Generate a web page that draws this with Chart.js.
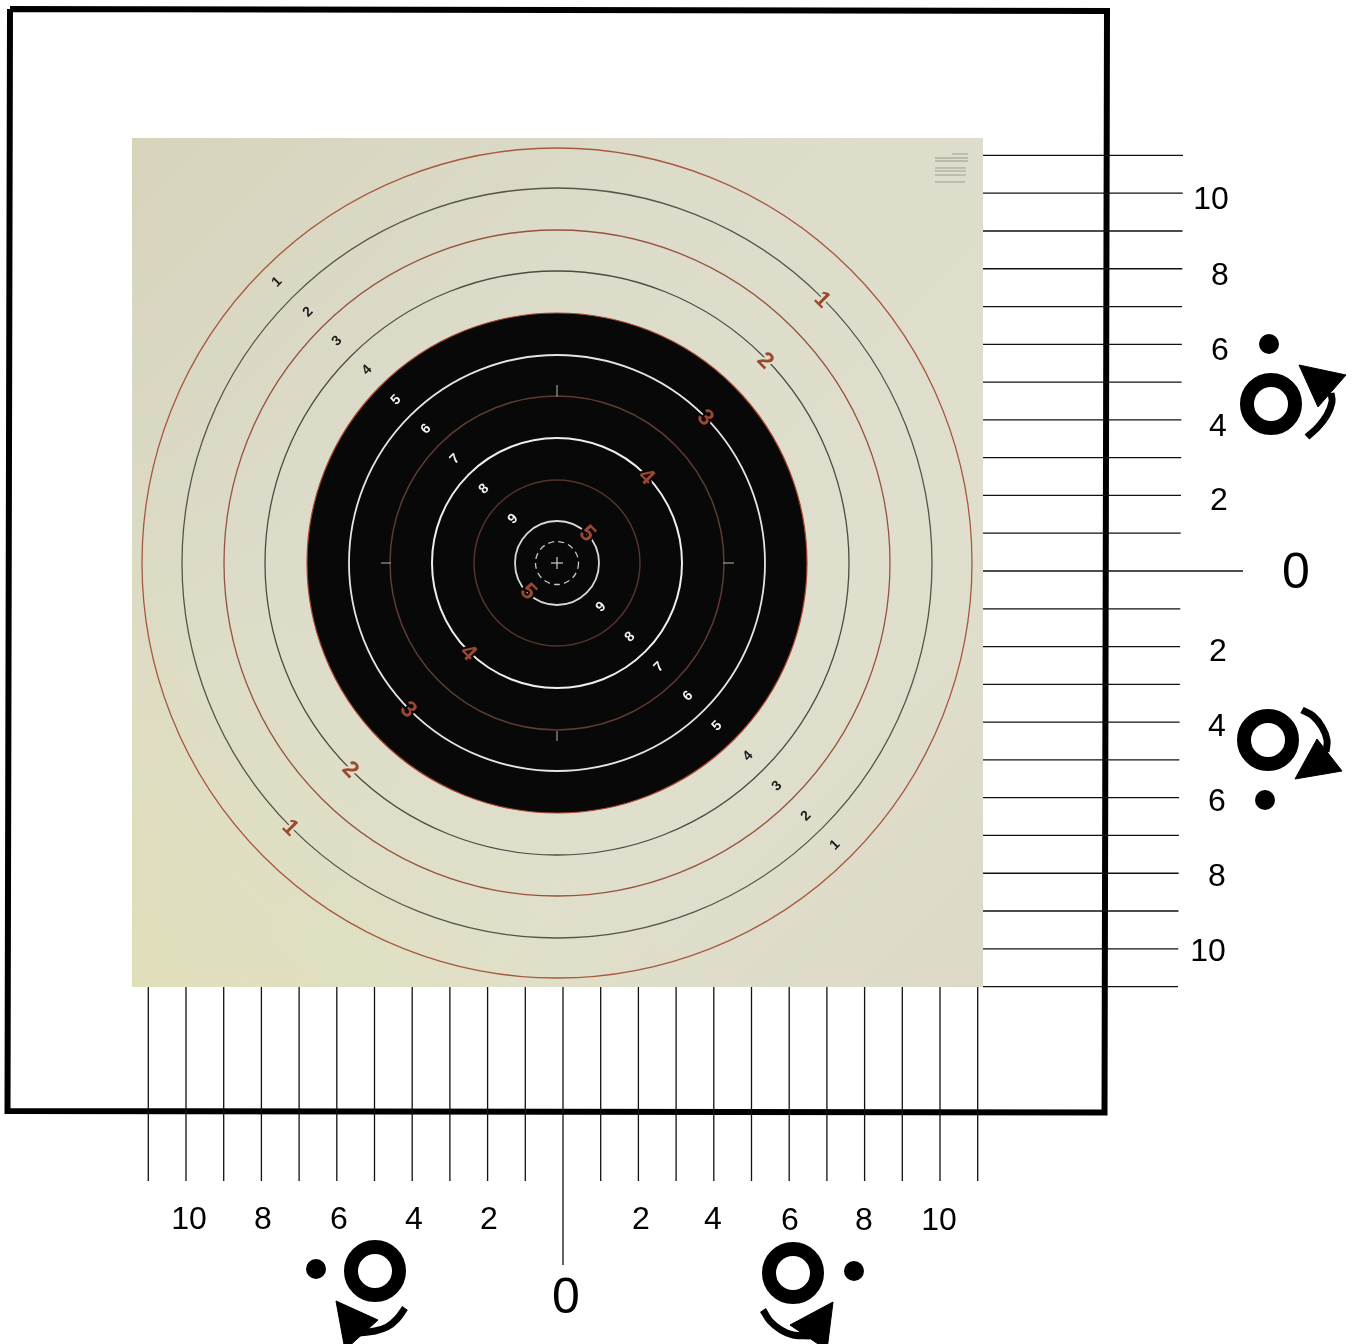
<!DOCTYPE html>
<html><head><meta charset="utf-8">
<style>html,body{margin:0;padding:0;background:#fff}canvas{display:block}</style>
<script src="https://cdn.jsdelivr.net/npm/chart.js@4"></script></head>
<body><canvas id="c" width="1357" height="1344"></canvas>
<script>
// ---- values ----
const tickValues = [-11,-10,-9,-8,-7,-6,-5,-4,-3,-2,-1,0,1,2,3,4,5,6,7,8,9,10,11];
const ringScores = [1,2,3,4,5,6,7,8,9,10];
const ringRadii  = [415,375,333,292,250,208,167,125,83,42];
const rightLabels  = ['10','8','6','4','2','0','2','4','6','8','10'];
const bottomLabels = ['10','8','6','4','2','0','2','4','6','8','10'];
const ringNumbersBlack = ['1','2','3','4','5','6','7','8','9'];
const ringNumbersRed   = ['1','2','3','4','5'];

// ---- layout (page coordinates) ----
const W=1357,H=1344, cx=557, cy=563;
const xZero=563,xStep=37.7,yZero=571,yStep=37.78;
const rightLabelX=[1211,1220,1220,1218,1219,1296,1218,1217,1217,1217,1208];
const rightLabelY=[200,276,351,427,501,574,652,727,802,877,952];
const bottomLabelX=[189,263,339,414,489,566,641,713,790,864,939];
const bottomLabelY=[1220,1220,1220,1220,1220,1299,1220,1220,1221,1221,1221];
const ulX=[277,308,337,367,396,426,455,484,513], ulY=[282,312,341,370,400,429,459,489,519];
const lrX=[835,806,777,748,717,688,659,630,601], lrY=[845,816,786,756,726,696,667,637,607];
const urX=[822,765,705,646,587], urY=[300,361,418,477,534];
const llX=[290,350,408,468,528], llY=[828,770,710,653,592];
const ringColors=['#a8583f','#55574a','#96533d','#4a4d42','#a8452c','#e4e4e4','#5e3c30','#eeeeee','#54352c','#d8d8d8'];
const ringWidths=[1.3,1.3,1.3,1.3,1.2,1.8,1.5,2,1.5,1.8];
const iconRings=[[1271,404],[1268,740],[375,1271],[793,1273]];
const iconDots=[[1269,344],[1265,800],[316,1269],[854,1271]];
const iconTriangles=[
 [[1299,365],[1346,375],[1318,407]],
 [[1317,739],[1342,771],[1295,779]],
 [[336,1301],[378,1320],[345,1350]],
 [[833,1302],[790,1325],[827,1350]]];
const iconArcs=[
 [[1307,437],[1318,427],[1327,415],[1332,402],[1331,393]],
 [[1302,710],[1313,716],[1322,727],[1327,740],[1326,752]],
 [[405,1308],[397,1319],[387,1327],[375,1331],[358,1333]],
 [[763,1310],[770,1321],[781,1330],[793,1335],[810,1336]]];
const framePoly=[[10,9],[1107,11],[1104.5,1112.5],[7.5,1111],[10,9]];
const panel=[[132,138],[983,138],[983,987],[132,987]];
const infoLines=[[952,154,968],[935,158,968],[935,161,968],[935,168,966],[935,171,966],[935,175,966],[935,182,965]];
const crossTicks=[[[557,385],[557,397]],[[557,731],[557,741]],[[381,563],[391,563]],[[723,563],[734,563]],[[551,563],[563,563]],[[557,557],[557,569]]];

const pts=a=>a.map(p=>({x:p[0],y:p[1]}));
const canvas=document.getElementById('c'), g=canvas.getContext('2d');
const gradA=g.createLinearGradient(132,138,983,987);
gradA.addColorStop(0,'#d6d4bb');gradA.addColorStop(.35,'#dddccb');gradA.addColorStop(.7,'#e0dfcd');gradA.addColorStop(1,'#dcdac6');
const gradB=g.createLinearGradient(132,987,420,700);
gradB.addColorStop(0,'rgba(225,226,170,.5)');gradB.addColorStop(1,'rgba(225,226,170,0)');

const page={xAxisID:'px',yAxisID:'py',type:'scatter',showLine:true,pointRadius:0,tension:0};
const ds=[];
ds.push({...page,order:100,data:pts(panel),fill:'shape',backgroundColor:gradA,borderWidth:0});
ds.push({...page,order:99,data:pts(panel),fill:'shape',backgroundColor:gradB,borderWidth:0});
ds.push({...page,order:90,data:pts(framePoly),borderColor:'#000',borderWidth:6,borderJoinStyle:'miter',fill:false});
infoLines.forEach(l=>ds.push({...page,order:85,data:[{x:l[0],y:l[1]},{x:l[2],y:l[1]}],borderColor:'rgba(120,120,110,.35)',borderWidth:1.8}));
ds.push({type:'bubble',xAxisID:'px',yAxisID:'py',order:50,
  data:ringRadii.map((r,i)=>({x:cx,y:cy,r:r,score:ringScores[i]})),
  backgroundColor:ringScores.map(s=>s===5?'#080808':'rgba(0,0,0,0)'),
  borderColor:ringColors,borderWidth:ringWidths,hoverRadius:0});
crossTicks.forEach((t,i)=>ds.push({...page,order:45,data:pts(t),borderColor:i>3?'#cfcfcf':'#9a9a9a',borderWidth:1.2}));
tickValues.forEach(v=>{
  ds.push({type:'scatter',showLine:true,pointRadius:0,xAxisID:'px',yAxisID:'y',order:40,
    data:[{x:983,y:v},{x:v===0?1243:1180.5+(v/11)*2.5,y:v}],borderColor:'#111',borderWidth:1.3});
  ds.push({type:'scatter',showLine:true,pointRadius:0,xAxisID:'x',yAxisID:'py',order:40,
    data:[{x:v,y:987},{x:v,y:v===0?1265:1181}],borderColor:'#111',borderWidth:1.3});
});
iconRings.forEach(p=>ds.push({...page,order:30,showLine:false,data:[{x:p[0],y:p[1]}],pointRadius:24,pointBorderWidth:14,pointBorderColor:'#000',pointBackgroundColor:'#fff'}));
iconDots.forEach(p=>ds.push({...page,order:30,showLine:false,data:[{x:p[0],y:p[1]}],pointRadius:10,pointBorderWidth:0,pointBackgroundColor:'#000'}));
iconTriangles.forEach(t=>ds.push({...page,order:29,data:pts(t.concat([t[0]])),fill:'shape',backgroundColor:'#000',borderColor:'#000',borderWidth:1}));
iconArcs.forEach(a=>ds.push({...page,order:29,data:pts(a),tension:.4,borderColor:'#000',borderWidth:7,fill:false}));

const textPlugin={id:'texts',afterDatasetsDraw(ch){
  const c=ch.ctx,X=ch.scales.px,Y=ch.scales.py;
  const put=(t,x,y,font,col,rot,halo)=>{c.save();c.translate(X.getPixelForValue(x),Y.getPixelForValue(y));c.rotate((rot||0)*Math.PI/180);
    c.font=font;c.textAlign='center';c.textBaseline='middle';
    if(halo){c.strokeStyle=halo;c.lineWidth=4;c.lineJoin='round';c.strokeText(t,0,0);}
    c.fillStyle=col;c.fillText(t,0,0);c.restore();};
  // dashed inner ring
  c.save();c.beginPath();c.arc(X.getPixelForValue(cx),Y.getPixelForValue(cy),21.5,0,Math.PI*2);c.setLineDash([6,4.2]);c.strokeStyle='#c8c8c8';c.lineWidth=1.3;c.stroke();c.restore();
  const fam='"Liberation Sans",Arial,sans-serif';
  rightLabels.forEach((t,i)=>put(t,rightLabelX[i],rightLabelY[i],(t==='0'?'50px ':'32px ')+fam,'#000'));
  bottomLabels.forEach((t,i)=>put(t,bottomLabelX[i],bottomLabelY[i],(t==='0'?'50px ':'32px ')+fam,'#000'));
  ringNumbersBlack.forEach((t,i)=>{const col=i<4?'#1c1c1c':'#f2f2f2';
    put(t,ulX[i],ulY[i],'bold 14px "Liberation Sans"',col,-45);
    put(t,lrX[i],lrY[i],'bold 14px "Liberation Sans"',col,-45);});
  ringNumbersRed.forEach((t,i)=>{const halo=i<2?'#dedecb':'#080808', col=i<2?'#9a4a30':'#9b4630';
    put(t,urX[i],urY[i],'bold 23px "Liberation Sans"',col,45,halo);
    put(t,llX[i],llY[i],'bold 23px "Liberation Sans"',col,45,halo);});
}};
new Chart(canvas,{type:'scatter',data:{datasets:ds},plugins:[textPlugin],options:{
  responsive:false,devicePixelRatio:1,animation:false,events:[],
  layout:{padding:0,autoPadding:false},
  plugins:{legend:{display:false},tooltip:{enabled:false},title:{display:false}},
  scales:{
    px:{axis:'x',type:'linear',display:false,min:0,max:W},
    py:{axis:'y',type:'linear',display:false,min:0,max:H,reverse:true},
    x:{axis:'x',type:'linear',display:false,min:-xZero/xStep,max:(W-xZero)/xStep},
    y:{axis:'y',type:'linear',display:false,min:(yZero-H)/yStep,max:yZero/yStep}
  }
}});
</script></body></html>
